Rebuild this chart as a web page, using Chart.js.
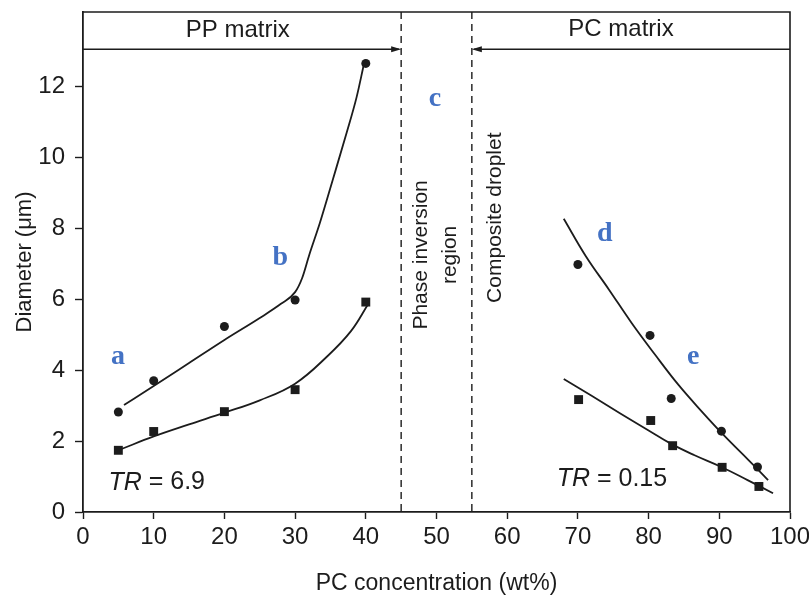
<!DOCTYPE html>
<html>
<head>
<meta charset="utf-8">
<title>Droplet diameter vs PC concentration</title>
<script src="https://cdn.jsdelivr.net/npm/chart.js@4.4.1/dist/chart.umd.min.js"></script>
<style>
  html, body { margin: 0; padding: 0; background: #fff; }
  #wrap { width: 809px; height: 604px; }
</style>
</head>
<body>
<div id="wrap"><canvas id="chart" width="809" height="604"></canvas></div>
<script>
const ppCircleX = [5, 10, 20, 30, 40];
const ppCircleY = [2.82, 3.7, 5.23, 5.98, 12.65];
const ppSquareX = [5, 10, 20, 30, 40];
const ppSquareY = [1.74, 2.27, 2.83, 3.45, 5.92];
const pcCircleX = [70, 80.2, 83.2, 90.3, 95.4];
const pcCircleY = [6.98, 4.98, 3.2, 2.28, 1.27];
const pcSquareX = [70.1, 80.3, 83.4, 90.4, 95.6];
const pcSquareY = [3.17, 2.58, 1.87, 1.26, 0.72];

// Hand-drawn fit curves
const fitAX = [5.8, 10, 15, 20, 25, 28, 30, 31, 32, 33.5, 35.3, 37.3, 38.7, 39.7];
const fitAY = [3.02, 3.55, 4.2, 4.85, 5.47, 5.87, 6.2, 6.6, 7.25, 8.15, 9.35, 10.7, 11.7, 12.6];
const fitBX = [5.35, 10, 15, 20, 25, 30, 34.6, 37.9, 40.3];
const fitBY = [1.77, 2.13, 2.47, 2.8, 3.15, 3.62, 4.4, 5.1, 5.85];
const fitDX = [68.0, 71.1, 74.4, 77.6, 80.9, 84.2, 87.5, 90.8, 94.1, 96.9];
const fitDY = [8.27, 7.22, 6.27, 5.33, 4.44, 3.59, 2.84, 2.13, 1.47, 0.9];
const fitEX = [68.0, 72.0, 76.0, 80.0, 83.2, 86.5, 90.3, 94.0, 97.6];
const fitEY = [3.75, 3.27, 2.78, 2.3, 1.92, 1.6, 1.27, 0.9, 0.53];

// Axis settings
const xTicks = [0, 10, 20, 30, 40, 50, 60, 70, 80, 90, 100];
const yTicks = [0, 2, 4, 6, 8, 10, 12];
const xMax = 100;
const yMax = 14.1;

// Regions and annotations (data coordinates)
const regionBounds = [45, 55];
const bandArrowY = 13.05;
const bandLabels = [
  { text: 'PP matrix', x: 21.9, y: 13.57 },
  { text: 'PC matrix', x: 76.1, y: 13.6 }
];
const verticalLabels = [
  { text: 'Phase inversion', x: 47.8, y: 7.25 },
  { text: 'region', x: 52.0, y: 7.25 },
  { text: 'Composite droplet', x: 58.3, y: 8.3 }
];
const trLabels = [
  { value: '6.9', x: 3.6, y: 0.83 },
  { value: '0.15', x: 67.0, y: 0.93 }
];
const letterLabels = [
  { text: 'a', x: 4.95, y: 4.37 },
  { text: 'b', x: 27.9, y: 7.18 },
  { text: 'c', x: 49.8, y: 11.66 },
  { text: 'd', x: 73.8, y: 7.86 },
  { text: 'e', x: 86.3, y: 4.37 }
];

const ink = '#1c1c1c';
const toPoints = (xs, ys) => xs.map((x, i) => ({ x: x, y: ys[i] }));

// Draws the frame, matrix band, dashed region lines and text labels
const annotations = {
  id: 'annotations',
  afterDatasetsDraw(chart) {
    const { ctx, chartArea: area, scales: { x, y } } = chart;
    ctx.save();
    ctx.strokeStyle = ink;
    ctx.fillStyle = ink;
    ctx.lineWidth = 1.6;

    // top and right frame
    ctx.beginPath();
    ctx.moveTo(area.left, area.top);
    ctx.lineTo(area.right, area.top);
    ctx.lineTo(area.right, area.bottom);
    ctx.stroke();

    // band arrows
    const ay = y.getPixelForValue(bandArrowY);
    const x1 = x.getPixelForValue(regionBounds[0]);
    const x2 = x.getPixelForValue(regionBounds[1]);
    ctx.lineWidth = 1.4;
    ctx.beginPath();
    ctx.moveTo(area.left, ay); ctx.lineTo(x1 - 2, ay);
    ctx.moveTo(area.right, ay); ctx.lineTo(x2 + 2, ay);
    ctx.stroke();
    ctx.beginPath();
    ctx.moveTo(x1, ay); ctx.lineTo(x1 - 10, ay - 3); ctx.lineTo(x1 - 10, ay + 3); ctx.closePath();
    ctx.moveTo(x2, ay); ctx.lineTo(x2 + 10, ay - 3); ctx.lineTo(x2 + 10, ay + 3); ctx.closePath();
    ctx.fill();

    // dashed region lines
    ctx.setLineDash([7, 5]);
    ctx.lineWidth = 1.4;
    regionBounds.forEach(v => {
      const px = x.getPixelForValue(v);
      ctx.beginPath();
      ctx.moveTo(px, area.top);
      ctx.lineTo(px, area.bottom);
      ctx.stroke();
    });
    ctx.setLineDash([]);

    ctx.textAlign = 'center';
    ctx.textBaseline = 'middle';
    ctx.font = '24px "Liberation Sans", Arial, sans-serif';
    bandLabels.forEach(l => {
      ctx.fillText(l.text, x.getPixelForValue(l.x), y.getPixelForValue(l.y));
    });

    ctx.font = '21px "Liberation Sans", Arial, sans-serif';
    verticalLabels.forEach(l => {
      ctx.save();
      ctx.translate(x.getPixelForValue(l.x), y.getPixelForValue(l.y));
      ctx.rotate(-Math.PI / 2);
      ctx.fillText(l.text, 0, 0);
      ctx.restore();
    });

    // TR = ... with italic TR
    ctx.textAlign = 'left';
    trLabels.forEach(l => {
      let px = x.getPixelForValue(l.x);
      const py = y.getPixelForValue(l.y);
      ctx.font = 'italic 25px "Liberation Sans", Arial, sans-serif';
      ctx.fillText('TR', px, py);
      px += ctx.measureText('TR').width;
      ctx.font = '25px "Liberation Sans", Arial, sans-serif';
      ctx.fillText(' = ' + l.value, px, py);
    });

    ctx.textAlign = 'center';
    ctx.fillStyle = '#4472c4';
    ctx.font = 'bold 28px "Liberation Serif", "Times New Roman", serif';
    letterLabels.forEach(l => {
      ctx.fillText(l.text, x.getPixelForValue(l.x), y.getPixelForValue(l.y));
    });
    ctx.restore();
  }
};

const curveStyle = {
  showLine: true,
  borderColor: ink,
  borderWidth: 1.8,
  pointRadius: 0,
  tension: 0.4,
  fill: false
};
const markStyle = {
  showLine: false,
  backgroundColor: ink,
  borderColor: ink,
  borderWidth: 0
};

new Chart(document.getElementById('chart'), {
  type: 'scatter',
  data: {
    datasets: [
      { ...curveStyle, label: 'fit a', cubicInterpolationMode: 'monotone', data: toPoints(fitAX, fitAY) },
      { ...curveStyle, label: 'fit b', data: toPoints(fitBX, fitBY) },
      { ...curveStyle, label: 'fit d', data: toPoints(fitDX, fitDY) },
      { ...curveStyle, label: 'fit e', data: toPoints(fitEX, fitEY) },
      { ...markStyle, label: 'PP circles', pointStyle: 'circle', pointRadius: 4.5, data: toPoints(ppCircleX, ppCircleY) },
      { ...markStyle, label: 'PP squares', pointStyle: 'rect', pointRadius: 6.3, data: toPoints(ppSquareX, ppSquareY) },
      { ...markStyle, label: 'PC circles', pointStyle: 'circle', pointRadius: 4.5, data: toPoints(pcCircleX, pcCircleY) },
      { ...markStyle, label: 'PC squares', pointStyle: 'rect', pointRadius: 6.3, data: toPoints(pcSquareX, pcSquareY) }
    ]
  },
  options: {
    responsive: false,
    animation: false,
    layout: { padding: { top: 0, right: 0, left: 0, bottom: 0 } },
    plugins: {
      legend: { display: false },
      tooltip: { enabled: false }
    },
    scales: {
      x: {
        type: 'linear',
        min: 0,
        max: xMax,
        afterBuildTicks: s => { s.ticks = xTicks.map(v => ({ value: v })); },
        afterFit: s => { s.height = 92; s.paddingRight = 19; },
        grid: { drawOnChartArea: false, tickLength: 7, color: ink, tickWidth: 1.4 },
        border: { color: ink, width: 1.8 },
        ticks: {
          color: ink,
          padding: 4,
          font: { family: '"Liberation Sans", Arial, sans-serif', size: 24 }
        },
        title: {
          display: true,
          text: 'PC concentration (wt%)',
          color: ink,
          padding: { top: 7, bottom: 7 },
          font: { family: '"Liberation Sans", Arial, sans-serif', size: 23 }
        }
      },
      y: {
        type: 'linear',
        min: 0,
        max: yMax,
        afterBuildTicks: s => { s.ticks = yTicks.map(v => ({ value: v })); },
        afterFit: s => { s.width = 83; s.paddingTop = 12; },
        grid: { drawOnChartArea: false, tickLength: 8, color: ink, tickWidth: 1.4 },
        border: { color: ink, width: 1.8 },
        ticks: {
          color: ink,
          padding: 10,
          font: { family: '"Liberation Sans", Arial, sans-serif', size: 24 }
        },
        title: {
          display: true,
          text: 'Diameter (μm)',
          color: ink,
          padding: { top: 12, bottom: 12 },
          font: { family: '"Liberation Sans", Arial, sans-serif', size: 22 }
        }
      }
    }
  },
  plugins: [annotations]
});
</script>
</body>
</html>
